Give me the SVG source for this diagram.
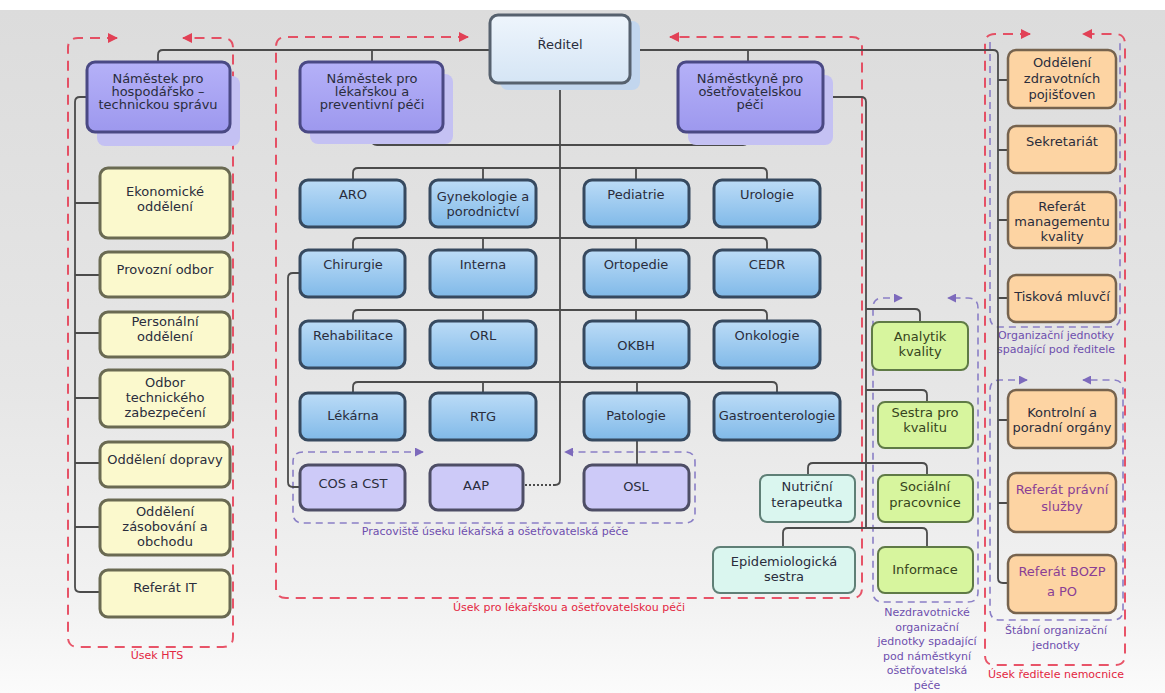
<svg xmlns="http://www.w3.org/2000/svg" width="1165" height="693" viewBox="0 0 1165 693">
<defs>
<linearGradient id="bg" x1="0" y1="0" x2="0" y2="1">
<stop offset="0" stop-color="#dcdcdc"/><stop offset="0.55" stop-color="#e6e6e6"/><stop offset="0.85" stop-color="#f1f1f1"/><stop offset="1" stop-color="#fbfbfb"/>
</linearGradient>
<linearGradient id="gBlue" x1="0" y1="0" x2="0" y2="1"><stop offset="0" stop-color="#bcdcf7"/><stop offset="1" stop-color="#80b9e8"/></linearGradient>
<linearGradient id="gDir" x1="0" y1="0" x2="0" y2="1"><stop offset="0" stop-color="#eef5fc"/><stop offset="1" stop-color="#d5e5f5"/></linearGradient>
<linearGradient id="gDep" x1="0" y1="0" x2="0" y2="1"><stop offset="0" stop-color="#b5b1f8"/><stop offset="1" stop-color="#9d98ee"/></linearGradient>
<marker id="ar" viewBox="0 0 10 10" refX="9" refY="5" markerWidth="10" markerHeight="10" markerUnits="userSpaceOnUse" orient="auto-start-reverse"><path d="M0,0 L10,5 L0,10 z" fill="#e3263f"/></marker>
<marker id="ap" viewBox="0 0 10 10" refX="9" refY="5" markerWidth="9" markerHeight="9" markerUnits="userSpaceOnUse" orient="auto-start-reverse"><path d="M0,0 L10,5 L0,10 z" fill="#7d6abc"/></marker>
<style>
text{font-family:"DejaVu Sans","Liberation Sans",sans-serif;font-size:13px;fill:#2a2d3c;text-anchor:middle}
.blue{fill:url(#gBlue);stroke:#36495f;stroke-width:3}
.dir{fill:url(#gDir);stroke:#56616e;stroke-width:3}
.dep{fill:url(#gDep);stroke:#4a4984;stroke-width:3}
.sh{fill:#c4c1f3}
.yel{fill:#fbf9cd;stroke:#6a6a52;stroke-width:3}
.lav{fill:#cdcaf8;stroke:#4e4e66;stroke-width:3}
.ora{fill:#fdd4a3;stroke:#76634e;stroke-width:2.5}
.grn{fill:#d7f59e;stroke:#5f7a46;stroke-width:2}
.cya{fill:#daf6ef;stroke:#5f7f76;stroke-width:2}
.ln{fill:none;stroke:#4b4b4b;stroke-width:1.8}
.red{fill:none;stroke:#e63850;stroke-width:2;stroke-dasharray:10 7;opacity:0.85}
.pur{fill:none;stroke:#8a7fc6;stroke-width:1.6;stroke-dasharray:7 5}
.cap{font-size:11px}
.cr{fill:#e3263f}
.cp{fill:#6e4fae}
.gt{fill:#364420}
.mt{fill:#8a3f95}
</style>
</defs>
<rect x="0" y="0" width="1165" height="693" fill="#ffffff"/>
<rect x="0" y="10" width="1165" height="683" fill="url(#bg)"/>

<g id="groups">
<path class="red" d="M117,38 H78 Q68,38 68,48 V637 Q68,647 78,647 H223 Q233,647 233,637 V48 Q233,38 223,38 H183" marker-start="url(#ar)" marker-end="url(#ar)"/>
<path class="red" d="M468,37 H286 Q276,37 276,47 V588 Q276,598 286,598 H852 Q862,598 862,588 V47 Q862,37 852,37 H670" marker-start="url(#ar)" marker-end="url(#ar)"/>
<path class="red" d="M1030,34 H995 Q985,34 985,44 V655 Q985,665 995,665 H1115 Q1125,665 1125,655 V44 Q1125,34 1115,34 H1083" marker-start="url(#ar)" marker-end="url(#ar)"/>
<path class="pur" d="M990,42 V317 Q990,327 1000,327 H1110 Q1120,327 1120,317 V42"/>
<path class="pur" d="M1027,380 H1000 Q990,380 990,390 V610 Q990,620 1000,620 H1113 Q1123,620 1123,610 V390 Q1123,380 1113,380 H1083" marker-start="url(#ap)" marker-end="url(#ap)"/>
<path class="pur" d="M902,298 H883 Q873,298 873,308 V592 Q873,602 883,602 H968 Q978,602 978,592 V308 Q978,298 968,298 H948" marker-start="url(#ap)" marker-end="url(#ap)"/>
<path class="pur" d="M423,452 H303 Q293,452 293,462 V513 Q293,523 303,523 H685 Q695,523 695,513 V462 Q695,452 685,452 H565" marker-start="url(#ap)" marker-end="url(#ap)"/>
<text class="cap cr" x="157" y="659">Úsek HTS</text>
<text class="cap cp" x="495" y="535">Pracoviště úseku lékařská a ošetřovatelská péče</text>
<text class="cap cr" x="569" y="611">Úsek pro lékařskou a ošetřovatelskou péči</text>
<text class="cap cp" x="927" y="616">Nezdravotnické</text>
<text class="cap cp" x="927" y="631">organizační</text>
<text class="cap cp" x="927" y="645">jednotky spadající</text>
<text class="cap cp" x="927" y="660">pod náměstkyní</text>
<text class="cap cp" x="927" y="674">ošetřovatelská</text>
<text class="cap cp" x="927" y="689">péče</text>
<text class="cap cp" x="1056" y="339">Organizační jednotky</text>
<text class="cap cp" x="1056" y="353">spadající pod ředitele</text>
<text class="cap cp" x="1056" y="634">Štábní organizační</text>
<text class="cap cp" x="1056" y="649">jednotky</text>
<text class="cap cr" x="1056" y="678">Úsek ředitele nemocnice</text>
</g>

<g id="connectors">
<path class="ln" d="M490,50 H163 Q158,50 158,55 V62"/>
<path class="ln" d="M372,50 V62"/>
<path class="ln" d="M630,50 H993 Q998,50 998,55 V578 Q998,583 1003,583 H1008"/>
<path class="ln" d="M748,50 V62"/>
<path class="ln" d="M998,80 H1008 M998,150 H1008 M998,220 H1008 M998,298 H1008 M998,420 H1008 M998,503 H1008"/>
<path class="ln" d="M372,132 V140 Q372,145 377,145 H743 Q748,145 748,140 V132"/>
<path class="ln" d="M560,83 V480 Q560,485 555,485"/>
<path class="ln" d="M555,485 H523" stroke-dasharray="2 2"/>
<path class="ln" d="M353,180 V173 Q353,168 358,168 H762 Q767,168 767,173 V180 M483,168 V180 M636,168 V180"/>
<path class="ln" d="M353,250 V243 Q353,238 358,238 H762 Q767,238 767,243 V250 M483,238 V250 M636,238 V250"/>
<path class="ln" d="M353,321 V315 Q353,310 358,310 H762 Q767,310 767,315 V321 M483,310 V321 M636,310 V321"/>
<path class="ln" d="M353,393 V387 Q353,382 358,382 H772 Q777,382 777,387 V393 M483,382 V393 M637,382 V393"/>
<path class="ln" d="M300,273 H293 Q288,273 288,278 V482 Q288,487 293,487 H300"/>
<path class="ln" d="M637,440 V465" stroke="#6a6a6a"/>
<path class="ln" d="M87,97 H80 Q75,97 75,102 V587 Q75,592 80,592 H100"/>
<path class="ln" d="M75,203 H100 M75,275 H100 M75,333 H100 M75,398 H100 M75,463 H100 M75,527 H100"/>
<path class="ln" d="M822,97 H861 Q866,97 866,102 V528"/>
<path class="ln" d="M866,309 H915 Q920,309 920,314 V322"/>
<path class="ln" d="M866,390 H922 Q927,390 927,395 V402"/>
<path class="ln" d="M808,475 V468 Q808,463 813,463 H922 Q927,463 927,468 V475"/>
<path class="ln" d="M783,547 V533 Q783,528 788,528 H922 Q927,528 927,533 V547"/>
</g>

<g id="reditel"><rect x="500" y="21" width="140" height="69" rx="8" fill="#c2d6ee"/><rect class="dir" x="490" y="15" width="140" height="68" rx="8"/><text x="560" y="49">Ředitel</text></g>

<g id="nam-hts"><rect class="sh" x="97" y="76" width="143" height="70" rx="8"/><rect class="dep" x="87" y="62" width="143" height="70" rx="8"/><text x="158" y="83">Náměstek pro</text><text x="158" y="96">hospodářsko –</text><text x="158" y="109">technickou správu</text></g>
<g id="nam-lek"><rect class="sh" x="310" y="74" width="143" height="70" rx="8"/><rect class="dep" x="300" y="62" width="143" height="70" rx="8"/><text x="372" y="83">Náměstek pro</text><text x="372" y="96">lékařskou a</text><text x="372" y="109">preventivní péči</text></g>
<g id="nam-ose"><rect class="sh" x="688" y="75" width="145" height="70" rx="8"/><rect class="dep" x="678" y="62" width="145" height="70" rx="8"/><text x="750" y="83">Náměstkyně pro</text><text x="750" y="96">ošetřovatelskou</text><text x="750" y="109">péči</text></g>

<g id="aro"><rect class="blue" x="300" y="180" width="105" height="47" rx="8"/><text x="353" y="199">ARO</text></g>
<g id="gyn"><rect class="blue" x="430" y="180" width="106" height="47" rx="8"/><text x="483" y="201">Gynekologie a</text><text x="483" y="216">porodnictví</text></g>
<g id="ped"><rect class="blue" x="584" y="180" width="105" height="47" rx="8"/><text x="636" y="199">Pediatrie</text></g>
<g id="uro"><rect class="blue" x="714" y="180" width="106" height="47" rx="8"/><text x="767" y="199">Urologie</text></g>

<g id="chi"><rect class="blue" x="300" y="250" width="105" height="47" rx="8"/><text x="353" y="269">Chirurgie</text></g>
<g id="int"><rect class="blue" x="430" y="250" width="106" height="47" rx="8"/><text x="483" y="269">Interna</text></g>
<g id="ort"><rect class="blue" x="584" y="250" width="105" height="47" rx="8"/><text x="636" y="269">Ortopedie</text></g>
<g id="cedr"><rect class="blue" x="714" y="250" width="106" height="47" rx="8"/><text x="767" y="269">CEDR</text></g>

<g id="reh"><rect class="blue" x="300" y="321" width="105" height="47" rx="8"/><text x="353" y="340">Rehabilitace</text></g>
<g id="orl"><rect class="blue" x="430" y="321" width="106" height="47" rx="8"/><text x="483" y="340">ORL</text></g>
<g id="okbh"><rect class="blue" x="584" y="321" width="105" height="47" rx="8"/><text x="636" y="350">OKBH</text></g>
<g id="onk"><rect class="blue" x="714" y="321" width="106" height="47" rx="8"/><text x="767" y="340">Onkologie</text></g>

<g id="lek"><rect class="blue" x="300" y="393" width="105" height="47" rx="8"/><text x="353" y="420">Lékárna</text></g>
<g id="rtg"><rect class="blue" x="430" y="393" width="106" height="47" rx="8"/><text x="483" y="421">RTG</text></g>
<g id="pat"><rect class="blue" x="584" y="393" width="105" height="47" rx="8"/><text x="636" y="420">Patologie</text></g>
<g id="gas"><rect class="blue" x="714" y="393" width="126" height="47" rx="8"/><text x="777" y="420">Gastroenterologie</text></g>

<g id="cos"><rect class="lav" x="300" y="465" width="105" height="45" rx="8"/><text x="353" y="488">COS a CST</text></g>
<g id="aap"><rect class="lav" x="430" y="465" width="93" height="45" rx="8"/><text x="476" y="490">AAP</text></g>
<g id="osl"><rect class="lav" x="584" y="465" width="105" height="45" rx="8"/><text x="636" y="491">OSL</text></g>

<g id="eko"><rect class="yel" x="100" y="168" width="130" height="70" rx="8"/><text x="165" y="196">Ekonomické</text><text x="165" y="211">oddělení</text></g>
<g id="pro"><rect class="yel" x="100" y="252" width="130" height="45" rx="8"/><text x="165" y="274">Provozní odbor</text></g>
<g id="per"><rect class="yel" x="100" y="312" width="130" height="45" rx="8"/><text x="165" y="326">Personální</text><text x="165" y="341">oddělení</text></g>
<g id="tech"><rect class="yel" x="100" y="370" width="130" height="57" rx="8"/><text x="165" y="387">Odbor</text><text x="165" y="402">technického</text><text x="165" y="417">zabezpečení</text></g>
<g id="dop"><rect class="yel" x="100" y="442" width="130" height="45" rx="8"/><text x="165" y="464">Oddělení dopravy</text></g>
<g id="zas"><rect class="yel" x="100" y="500" width="130" height="55" rx="8"/><text x="165" y="516">Oddělení</text><text x="165" y="531">zásobování a</text><text x="165" y="546">obchodu</text></g>
<g id="it"><rect class="yel" x="100" y="570" width="130" height="47" rx="8"/><text x="165" y="592">Referát IT</text></g>

<g id="ozp"><rect class="ora" x="1008" y="50" width="108" height="58" rx="8"/><text x="1062" y="67">Oddělení</text><text x="1062" y="83">zdravotních</text><text x="1062" y="99">pojišťoven</text></g>
<g id="sek"><rect class="ora" x="1008" y="126" width="108" height="47" rx="8"/><text x="1062" y="146">Sekretariát</text></g>
<g id="rmk"><rect class="ora" x="1008" y="192" width="108" height="56" rx="8"/><text x="1062" y="211">Referát</text><text x="1062" y="226">managementu</text><text x="1062" y="241">kvality</text></g>
<g id="tis"><rect class="ora" x="1008" y="275" width="108" height="47" rx="8"/><text x="1062" y="301">Tisková mluvčí</text></g>
<g id="kon"><rect class="ora" x="1008" y="390" width="108" height="58" rx="8"/><text x="1062" y="417">Kontrolní a</text><text x="1062" y="432">poradní orgány</text></g>
<g id="prav"><rect class="ora" x="1008" y="473" width="108" height="59" rx="8"/><text class="mt" x="1062" y="494">Referát právní</text><text class="mt" x="1062" y="511">služby</text></g>
<g id="bozp"><rect class="ora" x="1008" y="555" width="108" height="58" rx="8"/><text class="mt" x="1062" y="576">Referát BOZP</text><text class="mt" x="1062" y="596">a PO</text></g>

<g id="ana"><rect class="grn" x="872" y="322" width="96" height="48" rx="7"/><text class="gt" x="920" y="341">Analytik</text><text class="gt" x="920" y="356">kvality</text></g>
<g id="ses"><rect class="grn" x="878" y="402" width="95" height="46" rx="7"/><text class="gt" x="925" y="417">Sestra pro</text><text class="gt" x="925" y="432">kvalitu</text></g>
<g id="soc"><rect class="grn" x="878" y="475" width="95" height="47" rx="7"/><text class="gt" x="925" y="491">Sociální</text><text class="gt" x="925" y="507">pracovnice</text></g>
<g id="inf"><rect class="grn" x="878" y="547" width="95" height="46" rx="7"/><text class="gt" x="925" y="574">Informace</text></g>
<g id="nut"><rect class="cya" x="760" y="475" width="95" height="47" rx="7"/><text x="807" y="491">Nutriční</text><text x="807" y="507">terapeutka</text></g>
<g id="epi"><rect class="cya" x="713" y="547" width="142" height="46" rx="7"/><text x="784" y="566">Epidemiologická</text><text x="784" y="581">sestra</text></g>
</svg>
